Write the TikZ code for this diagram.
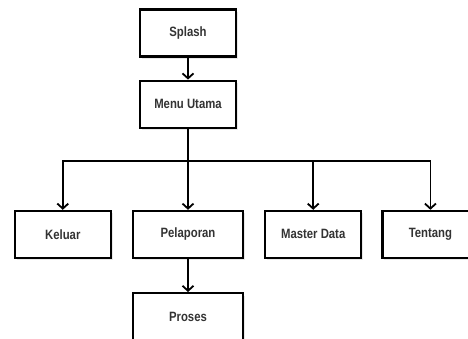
\documentclass[tikz,border=0pt]{standalone}
\usepackage{fontspec}
\setmainfont{Liberation Sans}[FakeStretch=0.84]
\usetikzlibrary{positioning,arrows.meta,shadows}

\begin{document}
\begin{tikzpicture}[
        x=1pt, y=-1pt,
        node distance=22pt and 20pt, % Distance between boxes
        every node/.style={draw, line width=2.2pt, fill=white, text=black!80,
            minimum width=96pt, minimum height=47pt, align=center,
            font=\fontsize{13.5}{15}\selectfont\bfseries,
            drop shadow={fill=black!18, draw=none, shadow xshift=2pt, shadow yshift=-2.5pt}}, % Box styling
        link/.style={line width=1.8pt, -{Straight Barb[length=5pt,width=11pt,line width=1.8pt]}} % Arrow styling
        ]
        \useasboundingbox (0,0) rectangle (468,338);

        % Define nodes
        \node (splash) at (188,33) {Splash};
        \node (menu) [below=of splash] {Menu Utama};
        \node (pelaporan) [below=81pt of menu, minimum width=110pt] {Pelaporan};
        \node (keluar) [left=of pelaporan] {Keluar};
        \node (master) [right=of pelaporan] {Master Data};
        \node (tentang) [right=19pt of master] {Tentang};
        \node (proses) [below=33pt of pelaporan, minimum width=110pt] {Proses};
        \coordinate (bar) at ([yshift=-32pt] menu.south);

        % Draw arrows
        \draw[link] (splash) -- (menu);
        \draw[line width=1.8pt] (menu) -- (bar);
        \foreach \n in {keluar, pelaporan, master, tentang}
            \draw[link] (bar) -| (\n.north);
        \draw[link] (pelaporan) -- (proses);

    \end{tikzpicture}
\end{document}
